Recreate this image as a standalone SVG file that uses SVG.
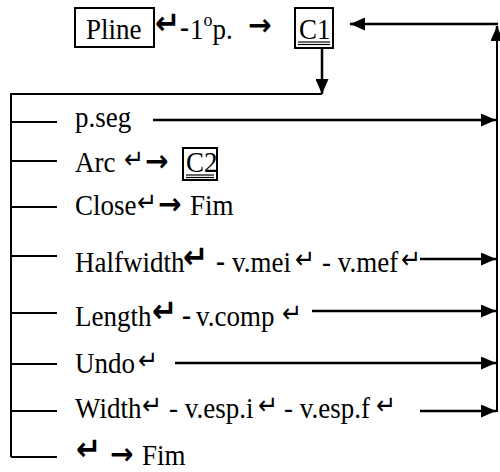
<svg xmlns="http://www.w3.org/2000/svg" width="500" height="472" viewBox="0 0 500 472">
  <defs>
    <marker id="ah" markerWidth="15" markerHeight="13" refX="15" refY="6.5" orient="auto" markerUnits="userSpaceOnUse">
      <path d="M0,0 L15,6.5 L0,13 z" fill="#000"/>
    </marker>
  </defs>
  <style>
    .t{font-family:"Liberation Serif","Times New Roman",serif;font-size:27px;fill:#000}
    .tb{font-family:"Liberation Serif","Times New Roman",serif;font-size:27px;font-weight:bold;fill:#000}
    .ret{font-family:"DejaVu Sans",sans-serif;font-size:24px;fill:#000}
    .retb{font-family:"DejaVu Sans",sans-serif;font-size:30px;font-weight:bold;fill:#000}
    .go{font-family:"DejaVu Sans",sans-serif;font-size:28px;font-weight:bold;fill:#000}
    .box{fill:none;stroke:#000;stroke-width:2}
    .ul{fill:none;stroke:#000;stroke-width:1.2}
    .ln{fill:none;stroke:#000;stroke-width:2}
    .arr{fill:none;stroke:#000;stroke-width:2.5;marker-end:url(#ah)}
  </style>

  <!-- command line: Pline, first point, then C1 -->
  <g id="pline">
    <rect class="box" x="75" y="8" width="79" height="39"/>
    <g transform="translate(0 39) scale(1 1.08)">
      <text class="t" x="86" y="0" font-size="31">Pline</text>
      <text class="retb" x="155" y="-5" font-size="19">↵</text>
      <text class="tb" x="180" y="-2" font-size="24">-</text>
      <text class="t" x="190" y="0" font-size="30">1<tspan font-size="18" dy="-12">o</tspan><tspan dy="12">p.</tspan></text>
      <text class="go" x="248" y="-4" font-size="25">→</text>
    </g>
  </g>

  <g id="c1">
    <rect class="box" x="295" y="8" width="38" height="40"/>
    <g transform="translate(0 39) scale(1 1.08)">
      <text class="t" x="299" y="0" font-size="28">C1</text>
    </g>
    <line class="ul" x1="298" y1="42" x2="330" y2="42"/>
    <line class="ul" x1="298" y1="44.5" x2="330" y2="44.5"/>
  </g>

  <!-- options -->
  <g id="opt-pseg" transform="translate(0 127) scale(1 1.08)">
    <text class="t" x="75" y="0">p.seg</text>
  </g>

  <g id="opt-arc">
    <g transform="translate(0 172) scale(1 1.08)">
      <text class="t" x="75" y="0">Arc</text>
      <text class="ret" x="124" y="-4">↵</text>
      <text class="go" x="145" y="-1">→</text>
      <text class="t" x="186" y="0" font-size="25">C2</text>
    </g>
    <rect class="box" x="183" y="148" width="34" height="32"/>
    <line class="ul" x1="186" y1="175" x2="214" y2="175"/>
    <line class="ul" x1="186" y1="177.5" x2="214" y2="177.5"/>
  </g>

  <g id="opt-close" transform="translate(0 215) scale(1 1.08)">
    <text class="t" x="75" y="0">Close</text>
    <text class="ret" x="137" y="-4">↵</text>
    <text class="go" x="158" y="-1">→</text>
    <text class="t" x="190" y="0">Fim</text>
  </g>

  <g id="opt-halfwidth" transform="translate(0 272) scale(1 1.08)">
    <text class="t" x="75" y="0">Halfwidth</text>
    <text class="retb" x="183" y="-4">↵</text>
    <text class="tb" x="216" y="-1">-</text>
    <text class="t" x="232" y="0">v.mei</text>
    <text class="ret" x="295" y="-4">↵</text>
    <text class="t" x="322" y="0">- v.mef</text>
    <text class="ret" x="401" y="-4">↵</text>
  </g>

  <g id="opt-length" transform="translate(0 326) scale(1 1.08)">
    <text class="t" x="75" y="0">Length</text>
    <text class="retb" x="152" y="-4">↵</text>
    <text class="tb" x="182" y="-1">-</text>
    <text class="t" x="196" y="0">v.comp</text>
    <text class="ret" x="282" y="-4">↵</text>
  </g>

  <g id="opt-undo" transform="translate(0 373) scale(1 1.08)">
    <text class="t" x="75" y="0">Undo</text>
    <text class="ret" x="138" y="-4">↵</text>
  </g>

  <g id="opt-width" transform="translate(0 418) scale(1 1.08)">
    <text class="t" x="75" y="0">Width</text>
    <text class="ret" x="142" y="-4">↵</text>
    <text class="t" x="169" y="0">- v.esp.i</text>
    <text class="ret" x="258" y="-4">↵</text>
    <text class="t" x="284" y="0">- v.esp.f</text>
    <text class="ret" x="376" y="-4">↵</text>
  </g>

  <g id="opt-enter" transform="translate(0 465) scale(1 1.08)">
    <text class="retb" x="76" y="-5">↵</text>
    <text class="go" x="110" y="-1">→</text>
    <text class="t" x="142" y="0">Fim</text>
  </g>

  <!-- connectors -->
  <g id="connectors">
    <line class="arr" x1="322" y1="48" x2="322" y2="94"/>
    <polyline class="ln" points="322,94 11,94 11,457"/>
    <line class="ln" x1="11" y1="122" x2="57" y2="122"/>
    <line class="ln" x1="11" y1="161" x2="57" y2="161"/>
    <line class="ln" x1="11" y1="207" x2="57" y2="207"/>
    <line class="ln" x1="11" y1="256" x2="57" y2="256"/>
    <line class="ln" x1="11" y1="313" x2="57" y2="313"/>
    <line class="ln" x1="11" y1="364" x2="57" y2="364"/>
    <line class="ln" x1="11" y1="411" x2="57" y2="411"/>
    <line class="ln" x1="11" y1="457" x2="57" y2="457"/>

    <line class="arr" x1="153" y1="120" x2="496" y2="120"/>
    <line class="arr" x1="420" y1="259" x2="496" y2="259"/>
    <line class="arr" x1="312" y1="311" x2="496" y2="311"/>
    <line class="arr" x1="175" y1="363" x2="496" y2="363"/>
    <line class="arr" x1="420" y1="411" x2="496" y2="411"/>

    <line class="ln" x1="497" y1="412" x2="497" y2="40" stroke-width="3"/>
    <line class="arr" x1="497" y1="40" x2="497" y2="26"/>
    <line class="arr" x1="498" y1="24" x2="350" y2="24"/>
  </g>
</svg>
